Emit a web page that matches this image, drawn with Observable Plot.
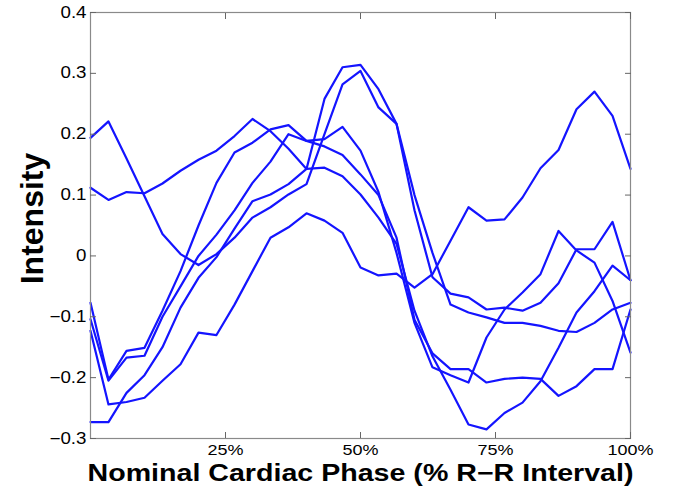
<!DOCTYPE html>
<html><head><meta charset="utf-8">
<script src="https://cdn.jsdelivr.net/npm/d3@7"></script>
<script src="https://cdn.jsdelivr.net/npm/@observablehq/plot@0.6"></script>
<style>body{margin:0;background:#fff}</style>
</head><body><div id="chart"></div>
<script>
const phase = [0,3.33,6.67,10,13.33,16.67,20,23.33,26.67,30,33.33,36.67,40,43.33,46.67,50,53.33,56.67,60,63.33,66.67,70,73.33,76.67,80,83.33,86.67,90,93.33,96.67,100];
const curve1 = [0.194,0.221,0.16,0.098,0.036,0.003,-0.015,0.003,0.03,0.063,0.08,0.101,0.118,0.2,0.282,0.304,0.244,0.217,0.1,0.005,-0.08,-0.093,-0.101,-0.11,-0.11,-0.115,-0.123,-0.125,-0.11,-0.088,-0.077];
const curve2 = [0.112,0.092,0.105,0.103,0.119,0.14,0.158,0.173,0.197,0.225,0.205,0.176,0.143,0.145,0.131,0.101,0.063,0.02,-0.09,-0.165,-0.22,-0.277,-0.285,-0.258,-0.241,-0.206,-0.151,-0.093,-0.058,-0.016,-0.04];
const curve3 = [-0.077,-0.203,-0.156,-0.151,-0.09,-0.025,0.05,0.12,0.17,0.186,0.208,0.215,0.189,0.192,0.212,0.173,0.105,0.005,-0.11,-0.183,-0.196,-0.208,-0.134,-0.088,-0.06,-0.03,0.041,0.009,-0.011,-0.074,-0.159];
const curve4 = [-0.104,-0.205,-0.167,-0.164,-0.1,-0.05,0.0,0.035,0.075,0.12,0.155,0.2,0.189,0.18,0.166,0.134,0.1,0.03,-0.105,-0.16,-0.186,-0.186,-0.208,-0.202,-0.2,-0.202,-0.23,-0.214,-0.186,-0.186,-0.088];
const curve5 = [-0.123,-0.244,-0.24,-0.233,-0.205,-0.178,-0.126,-0.13,-0.08,-0.025,0.03,0.047,0.07,0.058,0.038,-0.019,-0.032,-0.029,-0.052,-0.03,0.025,0.08,0.058,0.06,0.096,0.144,0.174,0.241,0.27,0.23,0.143];
const curve6 = [-0.273,-0.273,-0.225,-0.196,-0.15,-0.085,-0.036,-0.002,0.045,0.09,0.101,0.118,0.143,0.258,0.31,0.314,0.274,0.217,0.075,-0.035,-0.062,-0.068,-0.088,-0.085,-0.09,-0.077,-0.045,0.011,0.011,0.056,-0.04];

const yTicks = [-0.3,-0.2,-0.1,0,0.1,0.2,0.3,0.4];
const yTickLabels = ["\u22120.3","\u22120.2","\u22120.1","0","0.1","0.2","0.3","0.4"];
const xTicks = [25,50,75,100];
const xTickLabels = ["25%","50%","75%","100%"];
const xTitle = "Nominal Cardiac Phase (% R\u2212R Interval)";
const yTitle = "Intensity";

const series = [curve1, curve2, curve3, curve4, curve5, curve6];
const rows = series.flatMap((vals, k) => vals.map((v, i) => ({phase: phase[i], value: v, curve: k})));

const chart = Plot.plot({
  width: 673, height: 498,
  marginLeft: 90, marginRight: 43, marginTop: 12, marginBottom: 60,
  style: {fontFamily: "'Liberation Sans', Arial, sans-serif", background: "#fff", color: "#000"},
  x: {domain: [0, 100]},
  y: {domain: [-0.3, 0.4]},
  marks: [
    Plot.lineY(rows, {x: "phase", y: "value", z: "curve", stroke: "#1414ff", strokeWidth: 2.2}),
    Plot.frame({stroke: "#8a8a8a", strokeWidth: 1.2}),
    Plot.axisY(yTicks, {anchor: "left", tickSize: -6, tickPadding: 10, stroke: "#666", fill: "#000", fontSize: 16,
      tickFormat: d => yTickLabels[yTicks.indexOf(d)], label: null}),
    Plot.axisY(yTicks, {anchor: "right", tickSize: -6, stroke: "#666", tickFormat: () => "", label: null}),
    Plot.axisX(xTicks, {anchor: "bottom", tickSize: -6, tickPadding: 12, stroke: "#666", fill: "#000", fontSize: 15,
      tickFormat: d => xTickLabels[xTicks.indexOf(d)], label: null}),
    Plot.axisX(xTicks, {anchor: "top", tickSize: -6, stroke: "#666", tickFormat: () => "", label: null}),
    Plot.text([xTitle], {text: d => d, frameAnchor: "bottom", textAnchor: "middle", dy: 42, fontSize: 23, fontWeight: "bold", fill: "#000"}),
    Plot.text([yTitle], {text: d => d, frameAnchor: "left", textAnchor: "middle", dx: -58, dy: -7, rotate: -90, fontSize: 32, fontWeight: "bold", fill: "#000"})
  ]
});
document.getElementById("chart").appendChild(chart);

// horizontal widening of horizontal texts, as in the reference
function widen(sel, k) {
  d3.select(chart).selectAll(sel).each(function() {
    const w = this.getComputedTextLength();
    if (w > 0) { this.setAttribute("textLength", (w * k).toFixed(1)); this.setAttribute("lengthAdjust", "spacingAndGlyphs"); }
  });
}
widen("g[aria-label='y-axis tick label'] text", 1.17);
widen("g[aria-label='x-axis tick label'] text", 1.2);
d3.select(chart).selectAll("g[aria-label='text'] text").filter(function() { return this.textContent === xTitle; })
  .attr("textLength", 546).attr("lengthAdjust", "spacingAndGlyphs");
</script>
</body></html>
